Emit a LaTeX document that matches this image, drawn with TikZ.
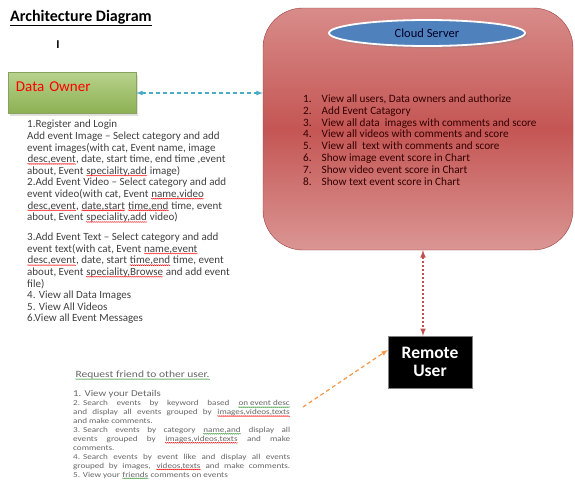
\documentclass[tikz,border=0pt]{standalone}
\usepackage{fontspec}
\setmainfont{Carlito}
\newfontfamily\widefont[FakeStretch=1.2]{Carlito}
\usepackage{tikz}
\usetikzlibrary{arrows,shapes,positioning,shadows,calc}
\usetikzlibrary{decorations.pathmorphing}

\definecolor{ownertop}{RGB}{184,210,140}
\definecolor{ownerbot}{RGB}{140,176,82}
\definecolor{cloudtop}{RGB}{216,140,138}
\definecolor{cloudmid}{RGB}{196,86,84}
\definecolor{cloudbot}{RGB}{218,150,148}
\definecolor{serverblue}{RGB}{79,129,189}
\definecolor{linkblue}{RGB}{75,172,198}
\definecolor{linkred}{RGB}{192,80,77}
\definecolor{linkorange}{RGB}{247,150,70}
\definecolor{wavegreen}{RGB}{60,150,60}

% spell-check waves under words
\newcommand\wavedword[2]{\tikz[baseline=(w.base), x=1cm, y=1cm]{\node [inner sep=0pt, anchor=base] (w) {#2}; \draw [#1, line width=0.4pt, decorate, decoration={snake, amplitude=0.5pt, segment length=2pt}] ([yshift=-1.3pt]w.base west) -- ([yshift=-1.3pt]w.base east);}}
\newcommand\redwave[1]{\wavedword{red}{#1}}
\newcommand\greenwave[1]{\wavedword{wavegreen}{#1}}
% one stretched line of the request list
\newcommand\fullline[1]{\hbox to 217pt{#1}}

\begin{document}
\begin{tikzpicture}[x=1pt, y=-1pt, >=latex]

		\tikzset{
			owner/.style={rectangle, draw=ownerbot!70!gray, top color=ownertop, bottom color=ownerbot, drop shadow={opacity=0.25}, minimum width=128pt, text width=112pt, align=left, inner xsep=8pt, inner ysep=0pt, text height=19pt, text depth=22pt, text=red, font=\fontsize{15}{18}\selectfont},
			cloudbox/.style={rectangle, rounded corners=40pt, draw=linkred!80!black, top color=cloudtop, bottom color=cloudbot, middle color=cloudmid, minimum width=310pt, minimum height=242pt},
			server/.style={ellipse, draw=white, line width=1.8pt, fill=serverblue, drop shadow={opacity=0.3}, minimum width=196pt, minimum height=26pt, text=black!85!blue, font=\fontsize{12.5}{14}\selectfont},
			remote/.style={rectangle, draw=gray, fill=black, text=white, minimum width=84pt, minimum height=52pt, align=center, font=\bfseries\fontsize{17.5}{18}\selectfont},
			listtext/.style={anchor=north west, inner sep=0pt, text=black!75, align=left},
			ownerlink/.style={<->, linkblue, line width=1.2pt, dash pattern=on 4pt off 3pt},
			userlink/.style={<->, linkred, line width=1.5pt, dash pattern=on 2pt off 2pt},
			reqlink/.style={->, linkorange, line width=1.2pt, dash pattern=on 4pt off 3pt},
		}

		\useasboundingbox (0,0) rectangle (575,485);

		% title
		\node [anchor=west, inner sep=0pt, font=\bfseries\fontsize{16}{18}\selectfont] (title) at (10,18) {\underline{Architecture Diagram}};
		\node [font=\bfseries\fontsize{12}{14}\selectfont] (cursor) at (58,45) {I};

		% data owner
		\node [owner] (owner) at (72,93) {Data Owner};
		\node [listtext, font=\fontsize{11}{11.6}\selectfont] (ownerlist) at (27,120) {%
			1.Register and Login\\
			Add event Image -- Select category and add\\
			event images(with cat, Event name, image\\
			\redwave{desc,event}, date, start time, end time ,event\\
			about, Event \redwave{speciality,add} image)\\
			2.Add Event Video -- Select category and add\\
			event video(with cat, Event \redwave{name,video}\\
			\redwave{desc,event}, \redwave{date,start} \redwave{time,end} time, event\\
			about, Event \redwave{speciality,add} video)\\[8.4pt]
			3.Add Event Text -- Select category and add\\
			event text(with cat, Event \redwave{name,event}\\
			\redwave{desc,event}, date, start \redwave{time,end} time, event\\
			about, Event \redwave{speciality,Browse} and add event\\
			file)\\
			4. View all Data Images\\
			5. View All Videos\\
			6.View all Event Messages};

		% cloud server
		\node [cloudbox] (cloud) at (418,129) {};
		\node [server] (server) at (427,33) {Cloud Server};
		\node [listtext, text=black!80!red, font=\fontsize{11.2}{11.8}\selectfont] (cloudlist) at (303,94) {%
			\begin{tabular}{@{}l@{\hspace{10pt}}l@{}}
			1. & View all users, Data owners and authorize\\
			2. & Add Event Catagory\\
			3. & View all data\ \ images with comments and score\\
			4. & View all videos with comments and score\\
			5. & View all\ \ text with comments and score\\
			6. & Show image event score in Chart\\
			7. & Show video event score in Chart\\
			8. & Show text event score in Chart
			\end{tabular}};

		% remote user
		\node [remote] (remote) at (430,362) {Remote\\User};
		\node [listtext, text=black!60, font=\widefont\fontsize{9.6}{11}\selectfont] (request) at (75,371) {\greenwave{Request friend to other user.}};
		\node [listtext, text=black!60, font=\widefont\fontsize{7.6}{8.9}\selectfont] (userlist) at (73,390) {%
			{\fontsize{9}{9}\selectfont 1. View your Details}\\[0.5pt]
			\fullline{2.\hspace{3pt}Search events by keyword based \greenwave{on event desc}}\\
			\fullline{and display all events grouped by \redwave{images,videos,texts}}\\
			and make comments.\\
			\fullline{3.\hspace{3pt}Search events by category \greenwave{name,and} display all}\\
			\fullline{events grouped by \redwave{images,videos,texts} and make}\\
			comments.\\
			\fullline{4.\hspace{3pt}Search events by event like and display all events}\\
			\fullline{grouped by images, \redwave{videos,texts} and make comments.}\\
			5. View your \greenwave{friends} comments on events};

		% links
		\draw [ownerlink] (owner.east) -- (owner.east -| cloud.west);
		\draw [userlink] ([xshift=5pt]cloud.south) -- ([xshift=5pt]cloud.south |- remote.north);
		\coordinate (req) at (303,407);
		\draw [reqlink] (req) -- ([yshift=12pt]remote.west);
\end{tikzpicture}
\end{document}
